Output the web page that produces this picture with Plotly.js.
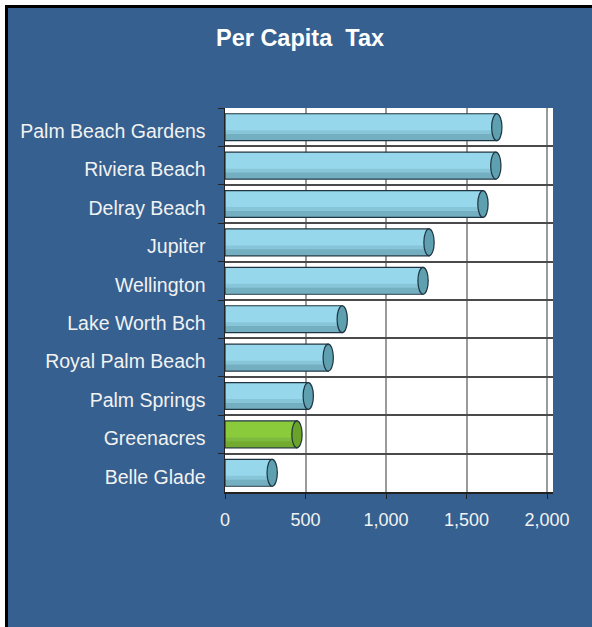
<!DOCTYPE html>
<html>
<head>
<meta charset="utf-8">
<script src="https://cdn.plot.ly/plotly-3.0.1.min.js"></script>
<style>
html,body{margin:0;padding:0;background:#ffffff;overflow:hidden;width:592px;height:627px;}
#frame{position:absolute;left:5px;top:5px;border-left:3px solid #000;border-top:3px solid #000;width:584px;height:619px;overflow:hidden;}
#chart{width:584px;height:619px;}
</style>
</head>
<body>
<div id="frame"><div id="chart"></div></div>
<script>
// Data
var cities = ["Palm Beach Gardens","Riviera Beach","Delray Beach","Jupiter","Wellington","Lake Worth Bch","Royal Palm Beach","Palm Springs","Greenacres","Belle Glade"];
var perCapitaTax = [1688, 1682, 1602, 1267, 1230, 728, 641, 517, 447, 293];
var highlightCity = "Greenacres";
var xTickValues = [0, 500, 1000, 1500, 2000];
var xTickLabels = ["0", "500", "1,000", "1,500", "2,000"];

var blueFill = "#96D7EB", blueCap = "#5E9FB0";
var greenFill = "#8ACB3C", greenCap = "#6BA22A";
var fills = cities.map(function(c){ return c === highlightCity ? greenFill : blueFill; });
var caps = cities.map(function(c){ return c === highlightCity ? greenCap : blueCap; });
var shades = cities.map(function(c){ return c === highlightCity ? "rgba(60,100,20,0.30)" : "rgba(30,70,85,0.28)"; });

var barW = 0.7, barOff = -0.35;

var traces = [
  {
    type: "bar", orientation: "h", y: cities, x: perCapitaTax,
    width: barW, offset: barOff,
    marker: {color: fills, line: {color: "#1E3440", width: 1.2}},
    hoverinfo: "x+y", showlegend: false
  },
  {
    type: "bar", orientation: "h", y: cities, x: perCapitaTax,
    width: 0.16, offset: barOff + barW - 0.17,
    marker: {color: shades, line: {width: 0}},
    hoverinfo: "skip", showlegend: false
  },
  {
    type: "bar", orientation: "h", y: cities, x: perCapitaTax,
    width: 0.1, offset: barOff + barW - 0.27,
    marker: {color: "rgba(30,70,85,0.12)", line: {width: 0}},
    hoverinfo: "skip", showlegend: false
  }
];

// end caps of the cylinders, placed in data coordinates
var shapes = perCapitaTax.map(function(v, i){
  return {
    type: "circle", xref: "x", yref: "y",
    x0: v - 32, x1: v + 32,
    y0: i + barOff, y1: i + barOff + barW,
    fillcolor: caps[i], line: {color: "#1E3440", width: 1.2}, layer: "above"
  };
});

var fontFam = "Arial, Liberation Sans, sans-serif";
var layout = {
  width: 584, height: 619,
  paper_bgcolor: "#36608F",
  plot_bgcolor: "#FFFFFF",
  margin: {l: 217, r: 39, t: 100, b: 135},
  barmode: "overlay",
  title: {
    text: "<b>Per Capita&nbsp; Tax</b>",
    font: {family: fontFam, size: 23.5, color: "#FFFFFF"},
    x: 0.5, xanchor: "center", y: 1 - 30/619, yanchor: "middle", yref: "container"
  },
  xaxis: {
    range: [0, 2037], tickvals: xTickValues, ticktext: xTickLabels,
    showgrid: true, gridcolor: "#9A9A9A", gridwidth: 2,
    zeroline: false, showline: true, linecolor: "#222", linewidth: 1.5,
    ticks: "outside", ticklen: 5, tickcolor: "#222",
    tickfont: {family: fontFam, size: 18, color: "#F2F2F2"},
    ticklabelstandoff: 6, fixedrange: true
  },
  yaxis: {
    type: "category", categoryorder: "array", categoryarray: cities,
    autorange: "reversed", tickson: "boundaries",
    showgrid: true, gridcolor: "#4A4A4A", gridwidth: 2,
    showline: true, linecolor: "#222", linewidth: 1.5,
    ticks: "outside", ticklen: 6, tickcolor: "#222",
    tickfont: {family: fontFam, size: 19.5, color: "#F2F2F2"},
    ticklabelstandoff: 14, ticklabelshift: -4, fixedrange: true
  },
  shapes: shapes
};

Plotly.newPlot("chart", traces, layout, {displayModeBar: false, staticPlot: true});
</script>
</body>
</html>
